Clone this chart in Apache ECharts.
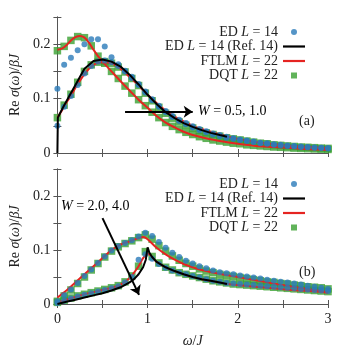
<!DOCTYPE html>
<html>
<head>
<meta charset="utf-8">
<script src="https://cdn.jsdelivr.net/npm/echarts@6/dist/echarts.min.js"></script>
<style>
  html, body { margin: 0; padding: 0; background: #fff; }
  #chart { width: 353px; height: 350px; }
</style>
</head>
<body>
<div id="chart"></div>
<script>
// omega grid of the marker series (ED, DQT)
const omegaPts = [0, 0.075, 0.15, 0.225, 0.3, 0.375, 0.45, 0.525, 0.6, 0.675,
  0.75, 0.825, 0.9, 0.975, 1.05, 1.125, 1.2, 1.275, 1.35, 1.425,
  1.5, 1.575, 1.65, 1.725, 1.8, 1.875, 1.95, 2.025, 2.1, 2.175,
  2.25, 2.325, 2.4, 2.475, 2.55, 2.625, 2.7, 2.775, 2.85, 2.925, 3.0]

// panel (a): W = 0.5, 1.0
const edA05 = [0.118, 0.162, 0.175, 0.189, 0.2, 0.209, 0.209, 0.196, 0.176, 0.163,
  0.15, 0.138, 0.125, 0.111, 0.097, 0.085, 0.075, 0.066, 0.059, 0.053,
  0.047, 0.042, 0.038, 0.034, 0.031, 0.028, 0.026, 0.024, 0.022, 0.02,
  0.018, 0.017, 0.015, 0.014, 0.013, 0.012, 0.011, 0.0105, 0.0098, 0.009, 0.0085]
const edA10 = [0.05, 0.085, 0.105, 0.125, 0.146, 0.16, 0.168, 0.17, 0.167, 0.16,
  0.151, 0.14, 0.127, 0.113, 0.099, 0.087, 0.077, 0.068, 0.061, 0.055,
  0.049, 0.044, 0.04, 0.036, 0.033, 0.03, 0.027, 0.025, 0.023, 0.021,
  0.019, 0.018, 0.016, 0.015, 0.014, 0.013, 0.012, 0.011, 0.01, 0.0095, 0.009]
const dqtA05 = [0.188, 0.196, 0.207, 0.214, 0.212, 0.197, 0.178, 0.165, 0.15, 0.137,
  0.123, 0.11, 0.098, 0.087, 0.075, 0.065, 0.056, 0.049, 0.043, 0.038,
  0.034, 0.03, 0.027, 0.024, 0.022, 0.02, 0.018, 0.017, 0.015, 0.014,
  0.013, 0.012, 0.011, 0.0105, 0.0098, 0.009, 0.0085, 0.008, 0.0075, 0.007, 0.0065]
const dqtA10 = [0.065, 0.088, 0.108, 0.13, 0.15, 0.162, 0.167, 0.168, 0.165, 0.158,
  0.149, 0.137, 0.124, 0.11, 0.096, 0.084, 0.073, 0.064, 0.057, 0.051,
  0.046, 0.041, 0.037, 0.034, 0.031, 0.028, 0.026, 0.024, 0.022, 0.02,
  0.018, 0.017, 0.015, 0.014, 0.013, 0.012, 0.011, 0.0105, 0.0098, 0.009, 0.0085]

const lineOmegaA = [0, 0.05, 0.1, 0.15, 0.2, 0.25, 0.3, 0.35, 0.4, 0.45, 0.5,
  0.6, 0.7, 0.8, 0.9, 1.0, 1.1, 1.2, 1.3, 1.4, 1.5, 1.6,
  1.8, 2.0, 2.2, 2.4, 2.6, 2.8, 3.0]
const ftlmA05 = [0.19, 0.192, 0.198, 0.207, 0.213, 0.215, 0.212, 0.203, 0.19, 0.178, 0.168,
  0.15, 0.132, 0.115, 0.098, 0.083, 0.068, 0.056, 0.047, 0.039, 0.033, 0.029,
  0.022, 0.017, 0.013, 0.011, 0.009, 0.007, 0.0055]
const ftlmA10 = [0.065, 0.078, 0.093, 0.105, 0.12, 0.133, 0.145, 0.155, 0.162, 0.166, 0.167,
  0.165, 0.155, 0.14, 0.124, 0.107, 0.092, 0.078, 0.067, 0.058, 0.05, 0.044,
  0.034, 0.026, 0.02, 0.016, 0.013, 0.011, 0.009]

const refOmegaA = [0, 0.005, 0.05, 0.08, 0.1, 0.2, 0.3, 0.4, 0.5, 0.6, 0.7, 0.8, 0.9,
  1.0, 1.1, 1.2, 1.3, 1.4, 1.5, 1.6, 1.7, 1.8, 1.88]
const refA = [0, 0.065, 0.08, 0.089, 0.095, 0.125, 0.155, 0.169, 0.172, 0.168, 0.159, 0.144, 0.126,
  0.107, 0.09, 0.075, 0.064, 0.055, 0.048, 0.042, 0.037, 0.033, 0.03]

// panel (b): W = 2.0, 4.0
const edB20 = [0.005, 0.016, 0.027, 0.039, 0.052, 0.064, 0.076, 0.088, 0.099, 0.107,
  0.113, 0.118, 0.125, 0.132, 0.126, 0.115, 0.104, 0.095, 0.087, 0.08,
  0.075, 0.07, 0.066, 0.062, 0.059, 0.057, 0.055, 0.053, 0.051, 0.049,
  0.047, 0.045, 0.043, 0.041, 0.04, 0.038, 0.036, 0.034, 0.032, 0.03, 0.028]
const edB40 = [0.002, 0.006, 0.01, 0.014, 0.017, 0.02, 0.023, 0.026, 0.029, 0.033,
  0.04, 0.05, 0.082, 0.092, 0.084, 0.074, 0.067, 0.062, 0.058, 0.055,
  0.052, 0.049, 0.046, 0.043, 0.041, 0.039, 0.038, 0.037, 0.036, 0.035,
  0.034, 0.033, 0.032, 0.031, 0.03, 0.029, 0.028, 0.027, 0.026, 0.025, 0.024]
const dqtB20 = [0.005, 0.015, 0.026, 0.038, 0.05, 0.063, 0.075, 0.087, 0.098, 0.106,
  0.112, 0.117, 0.123, 0.128, 0.12, 0.108, 0.098, 0.089, 0.081, 0.075,
  0.07, 0.065, 0.061, 0.058, 0.055, 0.053, 0.051, 0.049, 0.047, 0.045,
  0.043, 0.041, 0.04, 0.038, 0.037, 0.035, 0.034, 0.032, 0.031, 0.03, 0.028]
const dqtB40 = [0.003, 0.007, 0.011, 0.015, 0.018, 0.021, 0.024, 0.027, 0.03, 0.034,
  0.041, 0.052, 0.07, 0.097, 0.088, 0.076, 0.068, 0.063, 0.058, 0.055,
  0.052, 0.049, 0.046, 0.043, 0.041, 0.039, 0.037, 0.036, 0.035, 0.034,
  0.033, 0.032, 0.031, 0.03, 0.029, 0.028, 0.027, 0.026, 0.025, 0.024, 0.023]

const lineOmegaB = [0, 0.1, 0.2, 0.3, 0.4, 0.5, 0.6, 0.7, 0.8, 0.9, 0.95, 1.0,
  1.1, 1.2, 1.3, 1.4, 1.5, 1.6, 1.8, 2.0, 2.2, 2.4, 2.6, 2.8, 3.0]
const ftlmB20 = [0.012, 0.025, 0.04, 0.055, 0.07, 0.085, 0.1, 0.11, 0.116, 0.122, 0.124, 0.12,
  0.104, 0.092, 0.082, 0.074, 0.068, 0.063, 0.056, 0.05, 0.044, 0.038, 0.032, 0.027, 0.022]
const ftlmB40 = [0.003, 0.008, 0.013, 0.018, 0.022, 0.026, 0.03, 0.036, 0.048, 0.07, 0.085, 0.093,
  0.078, 0.068, 0.061, 0.055, 0.05, 0.046, 0.04, 0.035, 0.032, 0.029, 0.026, 0.024, 0.021]

const refOmegaB = [0, 0.1, 0.2, 0.3, 0.4, 0.5, 0.6, 0.7, 0.8, 0.85, 0.9, 0.95, 0.98, 1.0,
  1.02, 1.05, 1.1, 1.2, 1.3, 1.4, 1.5, 1.6, 1.7, 1.8, 1.88]
const refB = [0, 0.004, 0.008, 0.012, 0.016, 0.02, 0.025, 0.031, 0.04, 0.046, 0.055, 0.068, 0.082, 0.105,
  0.095, 0.087, 0.078, 0.068, 0.061, 0.055, 0.05, 0.046, 0.043, 0.04, 0.037]

const xTicks = [0, 1, 2, 3]
const yTicks = [0, 0.1, 0.2]

const BLUE = '#2a7ab9'
const GREEN = '#3aa031'
const RED = '#e52421'
const FONT = 'Liberation Serif'
const FS = 14

const chart = echarts.init(document.getElementById('chart'), null, { renderer: 'canvas' })

const pts = (xs, ys) => xs.map((x, i) => [x, ys[i]])

const legendText = {
  ED: '{r|ED }{i|L}{r| = 14}',
  EDRef: '{r|ED }{i|L}{r| = 14 (Ref. 14)}',
  FTLM: '{r|FTLM }{i|L}{r| = 22}',
  DQT: '{r|DQT }{i|L}{r| = 22}'
}
const rich = {
  r: { fontFamily: FONT, fontSize: FS, color: '#222', lineHeight: 14 },
  i: { fontFamily: FONT, fontSize: FS, fontStyle: 'italic', color: '#222', lineHeight: 14 }
}
const LINE_ICON = 'path://M0,0h22v2.2h-22z'
const SQUARE_ICON = 'path://M0,0h6v6h-6z'

function xAxes(gridIndex, withLabels) {
  const base = {
    gridIndex, type: 'value', min: 0, max: 3, interval: 0.5,
    axisLine: { lineStyle: { color: '#555', width: 1 } },
    axisTick: { inside: true, length: 4, lineStyle: { color: '#555' } },
    splitLine: { show: false }
  }
  return [
    Object.assign({}, base, {
      position: 'bottom',
      name: withLabels ? '{i|ω}{r|/}{i|J}' : '',
      nameLocation: 'middle', nameGap: 30,
      nameTextStyle: { rich },
      axisLabel: {
        show: withLabels, margin: 8, fontFamily: FONT, fontSize: FS, color: '#222',
        formatter: v => (xTicks.includes(v) ? String(v) : '')
      }
    }),
    Object.assign({}, base, { position: 'top', axisLabel: { show: false } })
  ]
}

function yAxes(gridIndex) {
  const base = {
    gridIndex, type: 'value', min: 0, max: 0.25, interval: 0.05,
    axisLine: { show: true, lineStyle: { color: '#555', width: 1 } },
    axisTick: { show: true, inside: true, length: 4, lineStyle: { color: '#555' } },
    splitLine: { show: false }
  }
  return [
    Object.assign({}, base, {
      position: 'left',
      name: '{r|Re }{i|σ}{r|(}{i|ω}{r|)/}{i|βJ}',
      nameLocation: 'middle', nameRotate: 90, nameGap: 33,
      nameTextStyle: { rich },
      axisLabel: {
        margin: 7, fontFamily: FONT, fontSize: FS, color: '#222',
        formatter: v => {
          const t = yTicks.find(k => Math.abs(k - v) < 1e-9)
          return t === undefined ? '' : (t === 0 ? '0' : t.toFixed(1))
        }
      }
    }),
    Object.assign({}, base, { position: 'right', axisLabel: { show: false } })
  ]
}

function panelSeries(ax, d) {
  // ax: x/y axis index of the panel
  return [
    { name: 'DQT', type: 'scatter', xAxisIndex: ax, yAxisIndex: ax, z: 2,
      symbol: 'rect', symbolSize: 7.5, itemStyle: { color: GREEN }, data: pts(omegaPts, d.dqt1) },
    { name: 'DQT', type: 'scatter', xAxisIndex: ax, yAxisIndex: ax, z: 2,
      symbol: 'rect', symbolSize: 7.5, itemStyle: { color: GREEN }, data: pts(omegaPts, d.dqt2) },
    { name: 'FTLM', type: 'line', xAxisIndex: ax, yAxisIndex: ax, z: 3, smooth: 0.3,
      symbol: 'none', lineStyle: { color: RED, width: 2 }, itemStyle: { color: RED },
      data: pts(d.lineOmega, d.ftlm1) },
    { name: 'FTLM', type: 'line', xAxisIndex: ax, yAxisIndex: ax, z: 3, smooth: 0.3,
      symbol: 'none', lineStyle: { color: RED, width: 2 }, itemStyle: { color: RED },
      data: pts(d.lineOmega, d.ftlm2) },
    { name: 'ED', type: 'scatter', xAxisIndex: ax, yAxisIndex: ax, z: 4,
      symbol: 'circle', symbolSize: 6, itemStyle: { color: BLUE }, data: pts(omegaPts, d.ed1) },
    { name: 'ED', type: 'scatter', xAxisIndex: ax, yAxisIndex: ax, z: 4,
      symbol: 'circle', symbolSize: 6, itemStyle: { color: BLUE }, data: pts(omegaPts, d.ed2) },
    { name: 'EDRef', type: 'line', xAxisIndex: ax, yAxisIndex: ax, z: 5, smooth: false,
      symbol: 'none', lineStyle: { color: '#000', width: 2 }, itemStyle: { color: '#000' },
      data: pts(d.refOmega, d.ref),
      markLine: {
        silent: true, symbol: ['none', 'arrow'], symbolSize: 9,
        lineStyle: { color: '#000', width: 2, type: 'solid' },
        label: { show: false },
        data: [[{ coord: d.arrow[0] }, { coord: d.arrow[1] }]]
      } }
  ]
}

const series = [].concat(
  panelSeries(0, {
    dqt1: dqtA05, dqt2: dqtA10, ed1: edA05, ed2: edA10,
    lineOmega: lineOmegaA, ftlm1: ftlmA05, ftlm2: ftlmA10,
    refOmega: refOmegaA, ref: refA,
    arrow: [[0.75, 0.076], [1.5, 0.076]]
  }),
  panelSeries(2, {
    dqt1: dqtB20, dqt2: dqtB40, ed1: edB20, ed2: edB40,
    lineOmega: lineOmegaB, ftlm1: ftlmB20, ftlm2: ftlmB40,
    refOmega: refOmegaB, ref: refB,
    arrow: [[0.5, 0.159], [0.905, 0.017]]
  })
)

function legend(top) {
  return {
    orient: 'vertical', right: 43, top, align: 'right',
    itemWidth: 22, itemHeight: 6, itemGap: 0.5,
    symbolKeepAspect: true,
    selectedMode: false,
    data: [
      { name: 'ED', icon: 'circle' },
      { name: 'EDRef', icon: LINE_ICON },
      { name: 'FTLM', icon: LINE_ICON },
      { name: 'DQT', icon: SQUARE_ICON }
    ],
    formatter: n => legendText[n],
    textStyle: { rich, lineHeight: 14 }
  }
}

const option = {
  backgroundColor: '#fff',
  animation: false,
  grid: [
    { left: 52, right: 25, top: 17, height: 136 },
    { left: 52, right: 25, top: 169, height: 135 }
  ],
  xAxis: [].concat(xAxes(0, false), xAxes(1, true)),
  yAxis: [].concat(yAxes(0), yAxes(1)),
  legend: [legend(20), legend(172)],
  graphic: [
    { type: 'text', left: 198, top: 104,
      style: { text: '{i|W}{r| = 0.5, 1.0}', rich } },
    { type: 'text', left: 61, top: 199,
      style: { text: '{i|W}{r| = 2.0, 4.0}', rich } },
    { type: 'text', left: 299, top: 114,
      style: { text: '(a)', fontFamily: FONT, fontSize: FS, fill: '#222' } },
    { type: 'text', left: 299, top: 265,
      style: { text: '(b)', fontFamily: FONT, fontSize: FS, fill: '#222' } }
  ],
  series
}

chart.setOption(option)
</script>
</body>
</html>
